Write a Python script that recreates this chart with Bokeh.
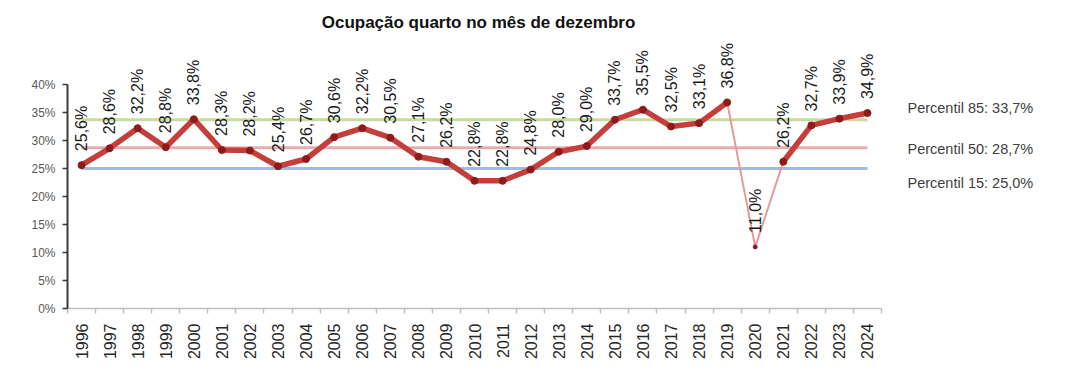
import math
from bokeh.plotting import figure
from bokeh.models import FixedTicker, PrintfTickFormatter, Range1d, ColumnDataSource
from bokeh.core.properties import value
from bokeh.embed import file_html
from bokeh.resources import INLINE

# ---- data ----
years = list(range(1996, 2025))
occupancy = [25.6, 28.6, 32.2, 28.8, 33.8, 28.3, 28.2, 25.4, 26.7, 30.6,
             32.2, 30.5, 27.1, 26.2, 22.8, 22.8, 24.8, 28.0, 29.0, 33.7,
             35.5, 32.5, 33.1, 36.8, 11.0, 26.2, 32.7, 33.9, 34.9]
gap_years = [2020]
pct_names = ["Percentil 85", "Percentil 50", "Percentil 15"]
pct_values = [33.7, 28.7, 25.0]
title_text = "Ocupação quarto no mês de dezembro"
y_ticks = [0, 5, 10, 15, 20, 25, 30, 35, 40]

# ---- styles ----
pct_colors = ["#C9DA9E", "#E4AEAD", "#9FBBDD"]
pct_label_dy = [-12, 1, 14]
FONT = "Liberation Sans"
PX_PER_CAT = 28.07
PX_PER_PCT = 5.6

def fmt(v):
    return ("%.1f" % v).replace(".", ",") + "%"

p = figure(width=1085, height=383, output_backend="svg", toolbar_location=None,
           x_range=Range1d(years[0] - 0.5, years[0] - 0.5 + (1085 - 67) / PX_PER_CAT),
           y_range=Range1d(0, 308 / PX_PER_PCT),
           min_border_left=67, min_border_right=0, min_border_top=0,
           min_border_bottom=75)
p.outline_line_color = None
p.xgrid.visible = False
p.ygrid.visible = False
p.background_fill_color = "white"
p.border_fill_color = "white"

# y axis
ya = p.yaxis[0]
ya.ticker = FixedTicker(ticks=y_ticks)
ya.formatter = PrintfTickFormatter(format="%d%%")
ya.bounds = (y_ticks[0], y_ticks[-1])
ya.axis_line_color = "#3a3a3a"
ya.axis_line_width = 2
ya.major_tick_line_color = "#3a3a3a"
ya.major_tick_line_width = 1.5
ya.major_tick_out = 5
ya.major_tick_in = 0
ya.minor_tick_out = 0
ya.minor_tick_in = 0
ya.major_label_standoff = 7
ya.major_label_text_font = FONT
ya.major_label_text_font_size = "12px"
ya.major_label_text_color = "#595959"

# x axis
xa = p.xaxis[0]
xa.ticker = FixedTicker(ticks=years, minor_ticks=[y - 0.5 for y in years] + [years[-1] + 0.5])
xa.bounds = (years[0] - 0.5, years[-1] + 0.5)
xa.axis_line_color = "#BFBFBF"
xa.axis_line_width = 1.5
xa.major_tick_out = 0
xa.major_tick_in = 0
xa.minor_tick_out = 5
xa.minor_tick_in = 0
xa.minor_tick_line_color = "#BFBFBF"
xa.minor_tick_line_width = 1.5
xa.major_label_orientation = math.pi / 2
xa.major_label_standoff = 10
xa.major_label_text_font = FONT
xa.major_label_text_font_size = "16px"
xa.major_label_text_color = "#262626"

# percentile reference lines and labels
for name, v, c, dy in zip(pct_names, pct_values, pct_colors, pct_label_dy):
    p.line([years[0], years[-1]], [v, v], line_color=c, line_width=3)
    p.text([years[-1]], [v], text=[f"{name}: {fmt(v)}"], x_offset=40, y_offset=dy,
           text_font=value(FONT), text_font_size="14.5px", text_color="#404040",
           text_align="left", text_baseline="middle")

# thin connecting line through all points
p.line(years, occupancy, line_color="#E39A98", line_width=2)

# thick line, broken at the gap year
thick = [float("nan") if yr in gap_years else v for yr, v in zip(years, occupancy)]
p.line(years, thick, line_color="#C43E3B", line_width=5.5, line_join="round")
main_x = [yr for yr in years if yr not in gap_years]
main_y = [v for yr, v in zip(years, occupancy) if yr not in gap_years]
p.scatter(main_x, main_y, size=7, fill_color="#8E1A1A", line_color="#8E1A1A")
gap_x = [yr for yr in years if yr in gap_years]
gap_y = [v for yr, v in zip(years, occupancy) if yr in gap_years]
p.scatter(gap_x, gap_y, size=4, fill_color="#8E1A1A", line_color="#8E1A1A")

# data labels
src = ColumnDataSource(dict(x=years, y=occupancy, t=[fmt(v) for v in occupancy]))
p.text(x="x", y="y", text="t", source=src, angle=math.pi / 2, y_offset=-14,
       text_align="left", text_baseline="middle", text_font=value(FONT),
       text_font_size="16px", text_color="#1a1a1a")

# title
p.text([(years[0] + years[-1]) / 2], [y_ticks[-1]], text=[title_text], x_offset=4, y_offset=-62,
       text_align="center", text_baseline="middle", text_font=value(FONT),
       text_font_size="17px", text_font_style="bold", text_color="#111111")

open("out.html", "w").write(file_html(p, INLINE))
